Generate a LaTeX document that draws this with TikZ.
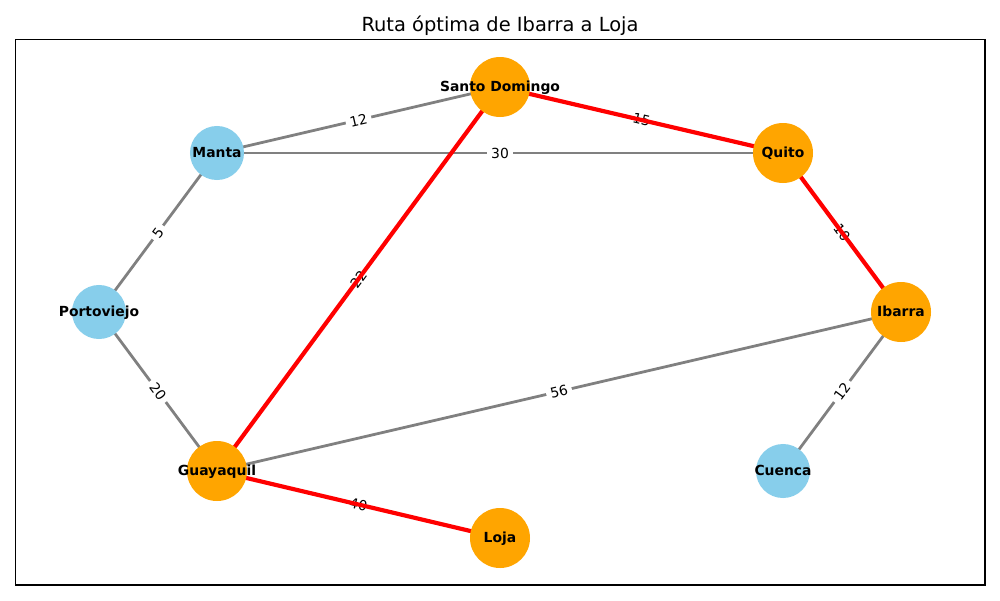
\documentclass[tikz,border=0pt]{standalone}
\usepackage{fontspec}
\setmainfont{DejaVu Sans}
\pgfdeclarelayer{bgl}
\pgfdeclarelayer{grayl}
\pgfdeclarelayer{labl}
\pgfdeclarelayer{redl}
\pgfsetlayers{bgl,grayl,labl,redl,main}
\definecolor{skyb}{HTML}{87CEEB}
\definecolor{orng}{HTML}{FFA500}
\definecolor{grayc}{HTML}{808080}
\newcommand{\citytext}[1]{\makebox[0pt][c]{\raisebox{-2.9pt}[0pt][0pt]{#1}}}
\begin{document}
\begin{tikzpicture}[x=0.72pt,y=-0.72pt,
  city/.style={circle,inner sep=0pt,font=\bfseries\fontsize{10}{12}\selectfont,text=black},
  onpath/.style={city,fill=orng,minimum size=43.2pt},
  offpath/.style={city,fill=skyb,minimum size=38.9pt},
  grayedge/.style={draw=grayc,line width=2pt},
  rededge/.style={draw=red,line width=3pt},
  elab/.style={midway,sloped,fill=white,inner sep=3pt,font=\fontsize{10}{12}\selectfont,text=black}]
\useasboundingbox (0,0) rectangle (1000,600);
\begin{pgfonlayer}{bgl}
\fill[white] (0,0) rectangle (1000,600);
\end{pgfonlayer}
\draw[line width=0.8pt] (15.5,39.5) rectangle (985,585);
\node[font=\fontsize{14}{17}\selectfont,anchor=base,inner sep=0pt] (title) at (500,31) {Ruta óptima de Ibarra a Loja};

\node[onpath] (sd) at (500,87) {\citytext{Santo Domingo}};
\node[onpath] (quito) at (783,153) {\citytext{Quito}};
\node[onpath] (ibarra) at (901,312) {\citytext{Ibarra}};
\node[offpath] (cuenca) at (783,471) {\citytext{Cuenca}};
\node[onpath] (loja) at (500,538) {\citytext{Loja}};
\node[onpath] (guayaquil) at (217,471) {\citytext{Guayaquil}};
\node[offpath] (portoviejo) at (99,312) {\citytext{Portoviejo}};
\node[offpath] (manta) at (217,153) {\citytext{Manta}};

\begin{pgfonlayer}{grayl}
\draw[grayedge] (manta.center) -- node[elab] (l1) {12} (sd.center);
\draw[grayedge] (manta.center) -- node[elab] (l2) {30} (quito.center);
\draw[grayedge] (portoviejo.center) -- node[elab] (l3) {5} (manta.center);
\draw[grayedge] (portoviejo.center) -- node[elab] (l4) {20} (guayaquil.center);
\draw[grayedge] (guayaquil.center) -- node[elab] (l5) {56} (ibarra.center);
\draw[grayedge] (cuenca.center) -- node[elab] (l6) {12} (ibarra.center);
\end{pgfonlayer}
\begin{pgfonlayer}{labl}
\path (guayaquil.center) -- node[elab] (l7) {22} (sd.center);
\path (guayaquil.center) -- node[elab] (l8) {40} (loja.center);
\path (sd.center) -- node[elab] (l9) {15} (quito.center);
\path (quito.center) -- node[elab] (l10) {10} (ibarra.center);
\end{pgfonlayer}
\begin{pgfonlayer}{redl}
\draw[rededge] (guayaquil.center) -- (sd.center);
\draw[rededge] (guayaquil.center) -- (loja.center);
\draw[rededge] (sd.center) -- (quito.center);
\draw[rededge] (quito.center) -- (ibarra.center);
\end{pgfonlayer}
\end{tikzpicture}
\end{document}
